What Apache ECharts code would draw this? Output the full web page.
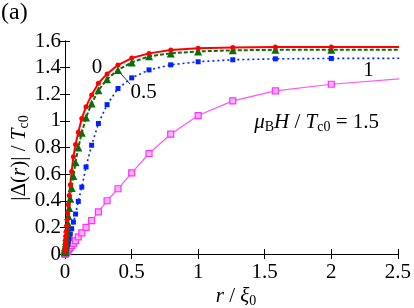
<!DOCTYPE html>
<html>
<head>
<meta charset="utf-8">
<script src="https://cdn.jsdelivr.net/npm/echarts@6/dist/echarts.min.js"></script>
<style>
html,body{margin:0;padding:0;background:#fff;}
#c{width:414px;height:308px;}
</style>
</head>
<body>
<div id="c"></div>
<script>
// r / xi0 grid (log-spaced sample points)
const rValues = [0.001,0.00126,0.00158,0.002,0.00251,0.00316,0.00398,0.00501,0.00631,0.00794,
  0.01,0.0126,0.0158,0.02,0.0251,0.0316,0.0398,0.0501,0.0631,0.0794,
  0.1,0.126,0.158,0.2,0.251,0.316,0.398,0.501,0.631,0.794,
  1,1.26,1.58,2,2.51];
// |Delta(r)| / Tc0 for each mu_B H / Tc0 curve
const delta0 = [0.018,0.022,0.028,0.035,0.044,0.055,0.07,0.088,0.11,0.138,
  0.17,0.21,0.255,0.31,0.37,0.44,0.52,0.62,0.73,0.823,
  0.915,1.017,1.107,1.195,1.283,1.353,1.419,1.472,1.507,1.532,
  1.545,1.551,1.554,1.555,1.555];
const delta05 = [0.013,0.016,0.021,0.026,0.033,0.041,0.052,0.065,0.081,0.10,
  0.125,0.155,0.19,0.235,0.285,0.345,0.415,0.495,0.585,0.69,
  0.80,0.91,1.026,1.13,1.23,1.313,1.383,1.439,1.485,1.507,
  1.522,1.53,1.534,1.535,1.535];
const delta1 = [0.004,0.005,0.006,0.008,0.01,0.012,0.015,0.019,0.024,0.03,
  0.038,0.048,0.06,0.076,0.095,0.12,0.15,0.19,0.24,0.30,
  0.395,0.503,0.654,0.817,0.98,1.122,1.243,1.323,1.383,1.421,
  1.444,1.459,1.466,1.469,1.47];
const delta15 = [0.0013,0.0016,0.002,0.0025,0.0032,0.004,0.005,0.0064,0.008,0.01,
  0.0127,0.016,0.02,0.025,0.032,0.04,0.051,0.064,0.08,0.101,
  0.128,0.158,0.20,0.25,0.317,0.40,0.49,0.61,0.755,0.90,
  1.04,1.15,1.225,1.275,1.315];
const xTicks = [0,0.5,1,1.5,2,2.5];
const yTicks = [0,0.2,0.4,0.6,0.8,1,1.2,1.4,1.6];

const FONT = 'Liberation Serif';
const pairs = (ys) => rValues.map((r,i)=>[r, ys[i]]);

const chart = echarts.init(document.getElementById('c'), null, {renderer:'canvas'});

const axisCommon = {
  axisLine:{show:true, lineStyle:{color:'#000', width:1}},
  axisTick:{show:true, inside:true, length:5, lineStyle:{color:'#000', width:1}},
  splitLine:{show:false}
};

chart.setOption({
  animation:false,
  backgroundColor:'#fff',
  grid:{left:65, right:14, top:41, bottom:54, containLabel:false},
  xAxis:[
    Object.assign({type:'value', min:xTicks[0], max:xTicks[xTicks.length-1], interval:0.5, position:'bottom',
      axisLabel:{color:'#000', fontFamily:FONT, fontSize:21, margin:8, formatter:(v)=>String(v)}}, axisCommon),
    Object.assign({type:'value', min:xTicks[0], max:xTicks[xTicks.length-1], interval:0.5, position:'top',
      axisLabel:{show:false}}, axisCommon)
  ],
  yAxis:[
    Object.assign({type:'value', min:yTicks[0], max:yTicks[yTicks.length-1], interval:0.2, position:'left',
      axisLabel:{color:'#000', fontFamily:FONT, fontSize:21, margin:4,
        formatter:(v)=>String(Math.round(v*10)/10)}}, axisCommon),
    Object.assign({type:'value', min:yTicks[0], max:yTicks[yTicks.length-1], interval:0.2, position:'right',
      axisLabel:{show:false}}, axisCommon)
  ],
  series:[
    {type:'line', data:pairs(delta15), clip:true, symbol:'rect', symbolSize:6,
      itemStyle:{color:'#ffb3ff', borderColor:'#ff33ff', borderWidth:1.2},
      lineStyle:{color:'#ff55ff', width:1.2}},
    {type:'line', data:pairs(delta1), clip:true, symbol:'rect', symbolSize:5,
      itemStyle:{color:'#0022ff'},
      lineStyle:{color:'#0022ff', width:1.6, type:[2,3]}},
    {type:'line', data:pairs(delta05), clip:true, symbol:'triangle', symbolSize:8,
      itemStyle:{color:'#0a6e0a'},
      lineStyle:{color:'#0a6e0a', width:2, type:[4,2]}},
    {type:'line', data:pairs(delta0), clip:true, symbol:'circle', symbolSize:5,
      itemStyle:{color:'#ff0000'},
      lineStyle:{color:'#ff0000', width:2}}
  ]
});

const px = (x,y) => chart.convertToPixel({gridIndex:0}, [x,y]);
const pLabel0 = px(0.24, 1.40);
const pLabel05 = px(0.59, 1.215);
const pLabel1 = px(2.28, 1.38);
const pFormula = px(1.89, 0.99);
const pA = px(0.396, 1.381), pB = px(0.49, 1.275);

const sub = {fontFamily:FONT, fontSize:14, verticalAlign:'bottom', lineHeight:13};
const ital = {fontFamily:FONT, fontSize:21, fontStyle:'italic', verticalAlign:'middle', lineHeight:24};
const norm = {fontFamily:FONT, fontSize:21, verticalAlign:'middle', lineHeight:24};

chart.setOption({
  graphic:[
    {type:'text', left:1, top:1, style:{text:'(a)', fontFamily:FONT, fontSize:24, fill:'#000'}},
    {type:'text', x:pLabel0[0], y:pLabel0[1], style:{text:'0', fontFamily:FONT, fontSize:21, fill:'#000', align:'center', verticalAlign:'middle'}},
    {type:'text', x:pLabel05[0], y:pLabel05[1], style:{text:'0.5', fontFamily:FONT, fontSize:21, fill:'#000', align:'center', verticalAlign:'middle'}},
    {type:'text', x:pLabel1[0], y:pLabel1[1], style:{text:'1', fontFamily:FONT, fontSize:21, fill:'#000', align:'center', verticalAlign:'middle'}},
    {type:'line', shape:{x1:pA[0], y1:pA[1], x2:pB[0], y2:pB[1]}, style:{stroke:'#000', lineWidth:0.8}},
    {type:'text', x:pFormula[0], y:pFormula[1],
      style:{text:'{i|μ}{s|B}{i|H}{n| / }{i|T}{s|c0}{n| = 1.5}', fill:'#000', align:'center', verticalAlign:'middle',
        rich:{i:ital, n:norm, s:sub}}},
    {type:'text', x:236, y:296,
      style:{text:'{i|r}{n| / }{i|ξ}{s|0}', fill:'#000', align:'center', verticalAlign:'middle',
        rich:{i:ital, n:norm, s:sub}}},
    {type:'text', x:19, y:158, rotation:Math.PI/2,
      style:{text:'{n||Δ(}{i|r}{n|)| / }{i|T}{s|c0}', fill:'#000', align:'center', verticalAlign:'middle',
        rich:{i:ital, n:norm, s:sub}}}
  ]
});
</script>
</body>
</html>
